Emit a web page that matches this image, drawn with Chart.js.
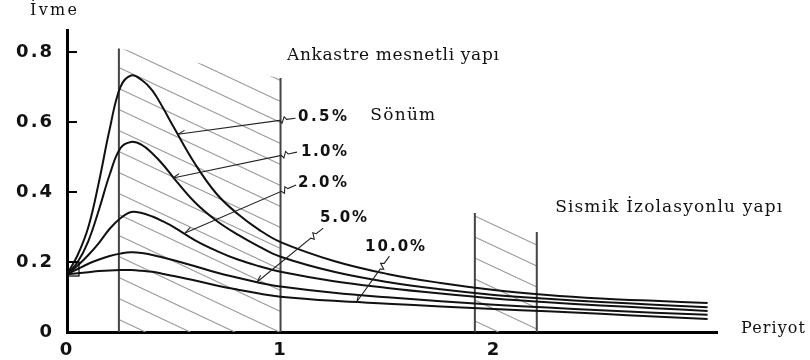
<!DOCTYPE html>
<html>
<head>
<meta charset="utf-8">
<script src="https://cdn.jsdelivr.net/npm/chart.js@4.4.1/dist/chart.umd.min.js"></script>
<style>
html, body { margin: 0; padding: 0; background: #fff; }
#wrap { width: 810px; height: 360px; }
</style>
</head>
<body>
<div id="wrap"><canvas id="spectrum" width="810" height="360"></canvas></div>
<script>
// period (s) and spectral acceleration for each damping ratio
var periods = [0, 0.05, 0.1, 0.15, 0.2, 0.25, 0.3, 0.35, 0.4, 0.45, 0.5, 0.6, 0.7, 0.8, 0.9, 1.0, 1.25, 1.5, 1.75, 2.0, 2.25, 2.5, 2.75, 3.0];
var damp05 = [0.165, 0.22, 0.30, 0.43, 0.58, 0.70, 0.733, 0.72, 0.69, 0.64, 0.585, 0.48, 0.395, 0.337, 0.292, 0.257, 0.203, 0.166, 0.14, 0.12, 0.106, 0.096, 0.089, 0.083];
var damp10 = [0.165, 0.20, 0.26, 0.35, 0.45, 0.525, 0.543, 0.535, 0.51, 0.478, 0.44, 0.37, 0.318, 0.278, 0.244, 0.215, 0.172, 0.143, 0.122, 0.106, 0.095, 0.086, 0.078, 0.071];
var damp20 = [0.165, 0.19, 0.22, 0.255, 0.295, 0.325, 0.343, 0.34, 0.33, 0.316, 0.30, 0.262, 0.232, 0.207, 0.188, 0.172, 0.145, 0.126, 0.11, 0.096, 0.085, 0.076, 0.068, 0.06];
var damp50 = [0.165, 0.18, 0.195, 0.207, 0.217, 0.224, 0.228, 0.226, 0.22, 0.213, 0.205, 0.188, 0.17, 0.155, 0.141, 0.13, 0.112, 0.099, 0.088, 0.078, 0.07, 0.062, 0.055, 0.049];
var damp100 = [0.165, 0.168, 0.171, 0.174, 0.176, 0.177, 0.177, 0.175, 0.172, 0.166, 0.16, 0.147, 0.133, 0.121, 0.11, 0.101, 0.089, 0.081, 0.073, 0.066, 0.059, 0.052, 0.044, 0.037];
var dampLabels = ['0.5%', '1.0%', '2.0%', '5.0%', '10.0%'];
var yTicks = [0, 0.2, 0.4, 0.6, 0.8];
var xTicks = [0, 1, 2];

// shaded period bands [from, to, top at left, top at right]
var fixedBand = [0.243, 1.0, 0.81, 0.726];
var isoBand = [1.91, 2.2, 0.34, 0.286];

// damping label: [label x, label y, leader start x, y, leader end x, y, label width]
var labelPos = [
  [1.082, 0.614, 1.07, 0.611, 0.52, 0.565, 49],
  [1.096, 0.514, 1.077, 0.514, 0.496, 0.44, 46],
  [1.082, 0.426, 1.073, 0.42, 0.553, 0.283, 49],
  [1.185, 0.326, 1.20, 0.297, 0.89, 0.143, 47],
  [1.396, 0.243, 1.51, 0.217, 1.358, 0.087, 60]
];

function pts(vals) {
  return periods.map(function (t, i) { return { x: t, y: vals[i] }; });
}

var series = [damp05, damp10, damp20, damp50, damp100];

function fitText(ctx, text, x, y, width) {
  ctx.letterSpacing = '0px';
  var w = ctx.measureText(text).width;
  var sp = (width - w) / Math.max(1, text.length - 1);
  ctx.letterSpacing = sp.toFixed(2) + 'px';
  ctx.fillText(text, x, y);
  ctx.letterSpacing = '0px';
}

var bandsPlugin = {
  id: 'bands',
  beforeDraw: function (chart) {
    chart.ctx.letterSpacing = '2px';
  },
  beforeDatasetsDraw: function (chart) {
    var ctx = chart.ctx, xs = chart.scales.x, ys = chart.scales.y;
    [fixedBand, isoBand].forEach(function (b) {
      var l = xs.getPixelForValue(b[0]), r = xs.getPixelForValue(b[1]);
      var tl = ys.getPixelForValue(b[2]), tr = ys.getPixelForValue(b[3]);
      var bot = ys.getPixelForValue(0);
      ctx.save();
      ctx.beginPath();
      ctx.moveTo(l, bot); ctx.lineTo(l, tl); ctx.lineTo(r, tr); ctx.lineTo(r, bot);
      ctx.closePath();
      ctx.clip();
      ctx.strokeStyle = '#9a9a9a';
      ctx.lineWidth = 1.1;
      var slope = 0.47;
      for (var y0 = tl - (r - l) * slope - 10; y0 < bot + 5; y0 += 21) {
        ctx.beginPath();
        ctx.moveTo(l, y0);
        ctx.lineTo(r, y0 + (r - l) * slope);
        ctx.stroke();
      }
      ctx.restore();
      ctx.save();
      ctx.strokeStyle = '#444';
      ctx.lineWidth = 2;
      ctx.beginPath();
      ctx.moveTo(l, bot); ctx.lineTo(l, tl);
      ctx.moveTo(r, bot); ctx.lineTo(r, tr);
      ctx.stroke();
      ctx.restore();
    });
  }
};

var notesPlugin = {
  id: 'notes',
  afterDraw: function (chart) {
    var ctx = chart.ctx, xs = chart.scales.x, ys = chart.scales.y, ca = chart.chartArea;
    ctx.letterSpacing = '0px';
    ctx.save();
    // inner tick marks on the y axis
    ctx.strokeStyle = '#000';
    ctx.lineWidth = 2;
    yTicks.forEach(function (v) {
      if (v === 0) return;
      var y = ys.getPixelForValue(v);
      ctx.beginPath(); ctx.moveTo(ca.left, y); ctx.lineTo(ca.left + 10, y); ctx.stroke();
    });
    // small box at the origin of the curves
    ctx.lineWidth = 1.2;
    ctx.strokeRect(ca.left + 1, ys.getPixelForValue(0.2), 11, ys.getPixelForValue(0.16) - ys.getPixelForValue(0.2));

    // leaders from the damping labels to their curves
    ctx.strokeStyle = '#222';
    ctx.lineWidth = 1.1;
    labelPos.forEach(function (p) {
      var x0 = xs.getPixelForValue(p[2]), y0 = ys.getPixelForValue(p[3]);
      var x1 = xs.getPixelForValue(p[4]), y1 = ys.getPixelForValue(p[5]);
      var dx = x1 - x0, dy = y1 - y0, len = Math.sqrt(dx * dx + dy * dy);
      var ux = dx / len, uy = dy / len, nx = -uy, ny = ux;
      var a = 9, b = 14;
      ctx.beginPath();
      ctx.moveTo(x0, y0);
      ctx.lineTo(x0 + ux * a, y0 + uy * a);
      ctx.lineTo(x0 + ux * (a + 2) + nx * 3, y0 + uy * (a + 2) + ny * 3);
      ctx.lineTo(x0 + ux * b - nx * 3, y0 + uy * b - ny * 3);
      ctx.lineTo(x0 + ux * (b + 2), y0 + uy * (b + 2));
      ctx.lineTo(x1, y1);
      ctx.stroke();
      // half arrow head
      ctx.beginPath();
      ctx.moveTo(x1, y1);
      ctx.lineTo(x1 - ux * 7 + nx * 3, y1 - uy * 7 + ny * 3);
      ctx.stroke();
    });

    // damping labels
    ctx.fillStyle = '#111';
    ctx.textBaseline = 'middle';
    ctx.textAlign = 'left';
    ctx.font = 'bold 15px "DejaVu Sans"';
    labelPos.forEach(function (p, i) {
      fitText(ctx, dampLabels[i], xs.getPixelForValue(p[0]), ys.getPixelForValue(p[1]), p[6]);
    });

    // captions
    ctx.textBaseline = 'alphabetic';
    ctx.font = '17px "DejaVu Serif"';
    fitText(ctx, 'Ankastre mesnetli yapı', xs.getPixelForValue(1.03), ys.getPixelForValue(0.777), 212);
    fitText(ctx, 'Sönüm', xs.getPixelForValue(1.42), ys.getPixelForValue(0.606), 65);
    fitText(ctx, 'Sismik İzolasyonlu yapı', xs.getPixelForValue(2.286), ys.getPixelForValue(0.343), 227);
    ctx.font = '16px "DejaVu Serif"';
    fitText(ctx, 'İvme', ca.left - 37, 15, 47);
    fitText(ctx, 'Periyot', ca.right + 24, ca.bottom + 1, 64);
    ctx.restore();
  }
};

var chart = new Chart(document.getElementById('spectrum'), {
  type: 'line',
  data: {
    datasets: series.map(function (s, i) {
      return {
        label: dampLabels[i],
        data: pts(s),
        borderColor: '#111',
        borderWidth: 2,
        pointRadius: 0,
        fill: false,
        tension: 0.4
      };
    })
  },
  options: {
    responsive: false,
    animation: false,
    layout: { padding: { left: 0, right: 93, top: 30, bottom: 0 } },
    plugins: { legend: { display: false }, tooltip: { enabled: false } },
    scales: {
      x: {
        type: 'linear',
        min: 0,
        max: 3.044,
        grid: { display: false },
        border: { display: true, color: '#000', width: 3 },
        afterBuildTicks: function (scale) {
          scale.ticks = xTicks.map(function (v) { return { value: v }; });
        },
        afterFit: function (scale) { scale.height = 28; },
        ticks: {
          color: '#111',
          padding: 0,
          maxRotation: 0,
          font: { family: 'DejaVu Sans', weight: 'bold', size: 18 },
          callback: function (v) { return String(v); }
        }
      },
      y: {
        min: 0,
        max: 0.863,
        grid: { display: false },
        border: { display: true, color: '#000', width: 3 },
        afterBuildTicks: function (scale) {
          scale.ticks = yTicks.map(function (v) { return { value: v }; });
        },
        afterFit: function (scale) { scale.width = 67; },
        ticks: {
          color: '#111',
          padding: 5,
          font: { family: 'DejaVu Sans', weight: 'bold', size: 18 },
          callback: function (v) { return String(v); }
        }
      }
    }
  },
  plugins: [bandsPlugin, notesPlugin]
});
</script>
</body>
</html>
